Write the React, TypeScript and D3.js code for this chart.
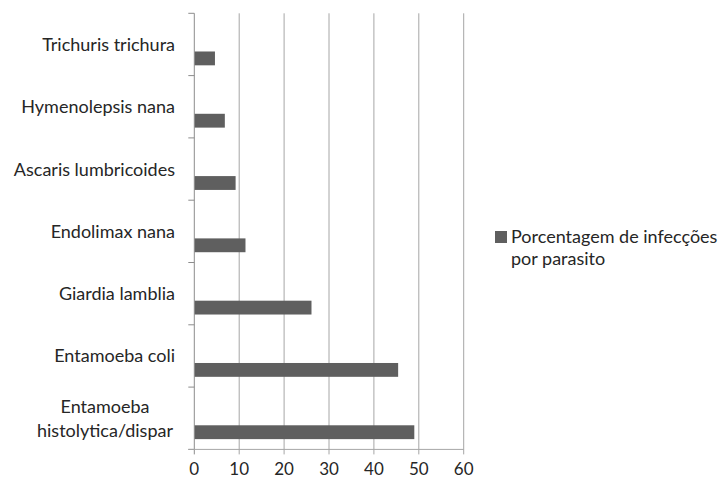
import { useRef, useEffect } from 'react';
import * as d3 from 'd3';

// Data
const categories: string[] = [
  'Trichuris trichura',
  'Hymenolepsis nana',
  'Ascaris lumbricoides',
  'Endolimax nana',
  'Giardia lamblia',
  'Entamoeba coli',
  'Entamoeba histolytica/dispar',
];
const categoryLines: string[][] = [
  ['Trichuris trichura'],
  ['Hymenolepsis nana'],
  ['Ascaris lumbricoides'],
  ['Endolimax nana'],
  ['Giardia lamblia'],
  ['Entamoeba coli'],
  ['Entamoeba', 'histolytica/dispar'],
];
const values: number[] = [4.6, 6.8, 9.2, 11.4, 26.1, 45.4, 49.0];
const xTicks: number[] = [0, 10, 20, 30, 40, 50, 60];
const seriesName: string[] = ['Porcentagem de infecções', 'por parasito'];

export default function App() {
  const chartRef = useRef<SVGSVGElement | null>(null);

  useEffect(() => {
    if (!chartRef.current) return;
    const svgWidth = 724;
    const svgHeight = 479;
    const font = 'Lato, "Open Sans", sans-serif';
    const textColor = '#262626';

    const svg = d3.select(chartRef.current)
      .attr('width', svgWidth)
      .attr('height', svgHeight);
    svg.selectAll('*').remove();

    const xScale = d3.scaleLinear().domain([0, 60]).range([194.3, 463.7]);
    const yScale = d3.scaleBand<string>().domain(categories).range([13.3, 449.4]).padding(0);
    const bw = yScale.bandwidth();
    const top = yScale.range()[0];
    const bottom = yScale.range()[1];

    // vertical gridlines (extend a bit below axis as ticks)
    svg.append('g')
      .selectAll('line')
      .data(xTicks.slice(1))
      .enter()
      .append('line')
      .attr('x1', (d) => xScale(d))
      .attr('x2', (d) => xScale(d))
      .attr('y1', top)
      .attr('y2', bottom + 5)
      .attr('stroke', '#a6a6a6')
      .attr('stroke-width', 1);

    // bars
    svg.append('g')
      .selectAll('rect')
      .data(values)
      .enter()
      .append('rect')
      .attr('x', xScale(0))
      .attr('y', (_d, i) => (yScale(categories[i]) || 0) + bw * 0.613)
      .attr('width', (d) => xScale(d) - xScale(0))
      .attr('height', bw * 0.222)
      .attr('fill', '#5f5f5f');

    // vertical axis line + category ticks
    svg.append('line')
      .attr('x1', xScale(0)).attr('x2', xScale(0))
      .attr('y1', top).attr('y2', bottom + 5)
      .attr('stroke', '#8c8c8c');
    svg.append('g')
      .selectAll('line')
      .data(categories.map((c) => yScale(c) || 0).concat([bottom]))
      .enter()
      .append('line')
      .attr('x1', xScale(0) - 6).attr('x2', xScale(0))
      .attr('y1', (d) => d).attr('y2', (d) => d)
      .attr('stroke', '#8c8c8c');

    // horizontal axis line
    svg.append('line')
      .attr('x1', xScale(0) - 6).attr('x2', xScale(60))
      .attr('y1', bottom).attr('y2', bottom)
      .attr('stroke', '#a6a6a6');

    // x tick labels
    svg.append('g')
      .selectAll('text')
      .data(xTicks)
      .enter()
      .append('text')
      .text((d) => String(d))
      .attr('x', (d) => xScale(d))
      .attr('y', 475)
      .attr('text-anchor', 'middle')
      .attr('font-family', font)
      .attr('font-size', '17px')
      .attr('fill', textColor);

    // category labels
    const lineH = 23.5;
    const labels = svg.append('g')
      .selectAll('text')
      .data(categories)
      .enter()
      .append('text')
      .attr('font-family', font)
      .attr('font-size', '18px')
      .attr('fill', textColor);
    labels.each(function (c, i) {
      const lines = categoryLines[i];
      const cy = (yScale(c) || 0) + bw / 2;
      const t = d3.select(this);
      const multi = lines.length > 1;
      lines.forEach((ln, j) => {
        t.append('tspan')
          .attr('x', multi ? 105 : 175)
          .attr('text-anchor', multi ? 'middle' : 'end')
          .attr('y', cy + 6.5 + (j - (lines.length - 1) / 2) * lineH)
          .text(ln);
      });
    });

    // legend
    svg.append('rect')
      .attr('x', 495).attr('y', 231)
      .attr('width', 12).attr('height', 12)
      .attr('fill', '#5f5f5f');
    svg.append('g')
      .selectAll('text')
      .data(seriesName)
      .enter()
      .append('text')
      .text((d) => d)
      .attr('x', 511)
      .attr('y', (_d, i) => 243 + i * 22)
      .attr('font-family', font)
      .attr('font-size', '18px')
      .attr('fill', textColor);
  }, []);

  return (
    <div>
      <svg ref={chartRef} style={{ position: 'absolute', left: 0, top: 0, background: '#fff' }}></svg>
    </div>
  );
}
